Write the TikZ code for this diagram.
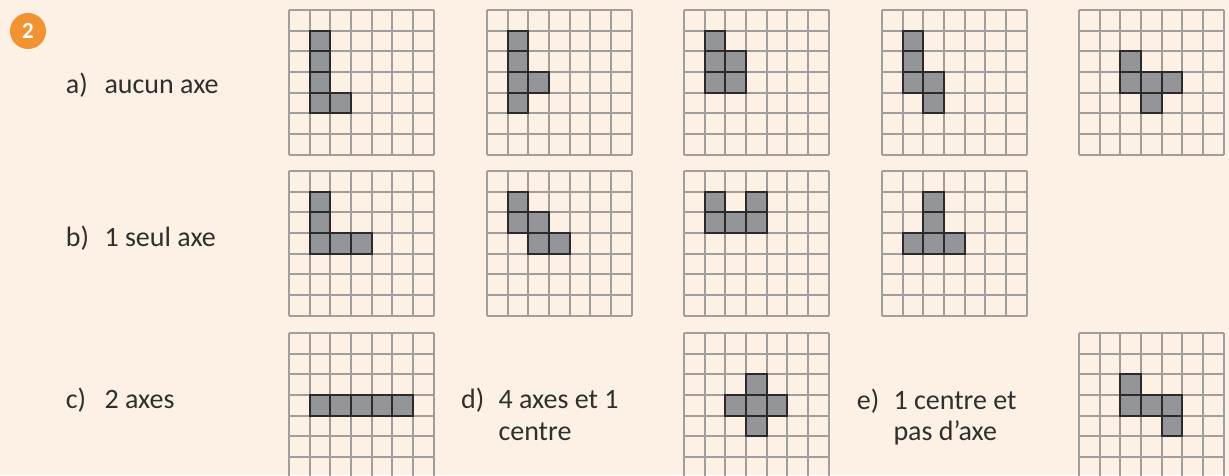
\documentclass[tikz,border=0pt]{standalone}
\usepackage{fontspec}
\setmainfont{Carlito}
\definecolor{bgcol}{HTML}{FDF0E4}
\definecolor{badgecol}{HTML}{F39231}
\definecolor{gridcol}{HTML}{A09F9E}
\definecolor{cellcol}{HTML}{939598}
\definecolor{edgecol}{HTML}{2B2A29}
\definecolor{textcol}{HTML}{2F2F2F}
\tikzset{
  gridline/.style={draw=gridcol, line width=1.4pt},
  shaded/.style={fill=cellcol, draw=edgecol, line width=2pt, line join=miter},
  lbl/.style={anchor=base west, inner sep=0pt, text=textcol, font=\fontsize{28}{33}\selectfont},
  txt/.style={anchor=base west, inner sep=0pt, text=textcol, font=\fontsize{28}{33}\selectfont, align=left},
  badge/.style={circle, fill=badgecol, inner sep=0pt, minimum size=36pt, text=white, font=\fontsize{23}{26}\bfseries\selectfont}
}
\newcommand\grillemotif[4]{%
  \begin{scope}[shift={(#1,#2)}]
    \coordinate (#4) at (0,0);
    \foreach \i in {0,...,7} {
      \pgfmathsetmacro\gp{round(\i*20.7)}
      \draw[gridline] (\gp,0) -- (\gp,145);
      \draw[gridline] (0,\gp) -- (145,\gp);
    }
    \foreach \c/\r in {#3} {
      \pgfmathsetmacro\ga{round(\c*20.7)}
      \pgfmathsetmacro\gb{round(\r*20.7)}
      \pgfmathsetmacro\gc{round((\c+1)*20.7)}
      \pgfmathsetmacro\gd{round((\r+1)*20.7)}
      \draw[shaded] (\ga,\gb) rectangle (\gc,\gd);
    }
  \end{scope}}
\begin{document}
\begin{tikzpicture}[x=1pt,y=-1pt]
\fill[bgcol] (0,0) rectangle (1229,475);
\useasboundingbox (0,0) rectangle (1229,475);
\clip (0,0) rectangle (1229,475);
\node[badge] (num) at (28,31) {2};
% row a
\node[lbl] (la) at (65.7,93.3) {a)};
\node[txt] (ta) at (104.3,93.3) {aucun axe};
\grillemotif{289}{10}{1/1,1/2,1/3,1/4,2/4}{ga1}
\grillemotif{487}{10}{1/1,1/2,1/3,2/3,1/4}{ga2}
\grillemotif{684}{10}{1/1,1/2,2/2,1/3,2/3}{ga3}
\grillemotif{882}{10}{1/1,1/2,1/3,2/3,2/4}{ga4}
\grillemotif{1079}{10}{2/2,2/3,3/3,4/3,3/4}{ga5}
% row b
\node[lbl] (lb) at (65.7,246.7) {b)};
\node[txt] (tb) at (104.3,246.7) {1 seul axe};
\grillemotif{289}{171}{1/1,1/2,1/3,2/3,3/3}{gb1}
\grillemotif{487}{171}{1/1,1/2,2/2,2/3,3/3}{gb2}
\grillemotif{684}{171}{1/1,3/1,1/2,2/2,3/2}{gb3}
\grillemotif{882}{171}{2/1,2/2,1/3,2/3,3/3}{gb4}
% row c
\node[lbl] (lc) at (65.7,408) {c)};
\node[txt] (tc) at (104.3,408) {2 axes};
\grillemotif{289}{333}{1/3,2/3,3/3,4/3,5/3}{gc1}
\node[lbl] (ld) at (461,408) {d)};
\node[txt] (td) at (498.3,408) {4 axes et 1};
\node[txt] (td2) at (498.3,440) {centre};
\grillemotif{684}{333}{3/2,2/3,3/3,4/3,3/4}{gc2}
\node[lbl] (le) at (856.7,409) {e)};
\node[txt] (te) at (893.3,409) {1 centre et};
\node[txt] (te2) at (893.3,440) {pas d’axe};
\grillemotif{1079}{333}{2/2,2/3,3/3,4/3,4/4}{gc3}
\end{tikzpicture}
\end{document}
